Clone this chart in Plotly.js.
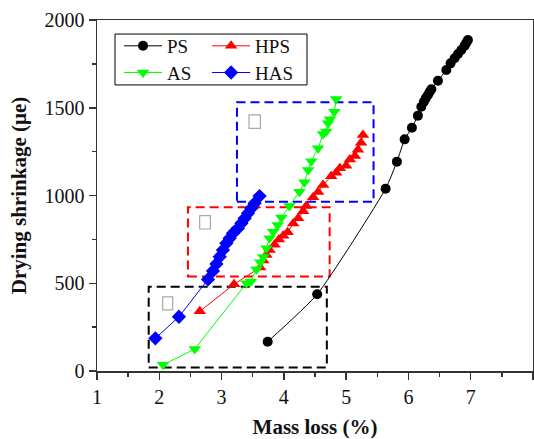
<!DOCTYPE html>
<html>
<head>
<meta charset="utf-8">
<script src="https://cdn.plot.ly/plotly-3.0.1.min.js"></script>
<style>
  html, body { margin: 0; padding: 0; background: #fff; }
  #chart { width: 534px; height: 439px; }
</style>
</head>
<body>
<div id="chart"></div>
<script>
// Drying shrinkage versus mass loss for the four mixes
const psX  = [3.74, 4.535, 5.634, 5.815, 5.939, 6.056, 6.152, 6.207, 6.249, 6.28, 6.313, 6.34, 6.368, 6.474, 6.608, 6.677, 6.741, 6.795, 6.849, 6.902, 6.93, 6.955];
const psY  = [167, 437, 1039, 1193, 1320, 1386, 1455, 1506, 1534, 1555, 1573, 1590, 1605, 1654, 1715, 1753, 1782, 1806, 1829, 1853, 1870, 1886];

const hpsX = [2.65, 3.20, 3.62, 3.67, 3.72, 3.77, 3.85, 3.92, 3.99, 4.06, 4.15, 4.23, 4.31, 4.36, 4.47, 4.55, 4.63, 4.76, 4.84, 4.90, 5.00, 5.06, 5.14, 5.19, 5.24, 5.27];
const hpsY = [340, 494, 590, 630, 661, 689, 720, 750, 770, 790, 840, 870, 910, 940, 990, 1020, 1060, 1110, 1130, 1155, 1170, 1205, 1225, 1260, 1300, 1345];

const asX  = [2.06, 2.57, 3.40, 3.47, 3.56, 3.62, 3.67, 3.72, 3.77, 3.83, 3.90, 3.96, 4.09, 4.25, 4.33, 4.39, 4.44, 4.55, 4.63, 4.68, 4.71, 4.74, 4.81, 4.84];
const asY  = [35, 125, 500, 510, 580, 620, 650, 700, 756, 794, 832, 874, 940, 1022, 1075, 1145, 1195, 1269, 1350, 1364, 1411, 1434, 1477, 1550];

const hasX = [1.937, 2.316, 2.782, 2.862, 2.917, 2.970, 3.022, 3.077, 3.130, 3.183, 3.263, 3.318, 3.371, 3.424, 3.478, 3.531, 3.61];
const hasY = [186, 309, 522, 570, 610, 651, 689, 728, 756, 785, 813, 842, 870, 899, 927, 956, 997];

// Stage regions (mass loss range, shrinkage range)
const stageNames = ['stage1', 'stage2', 'stage3'];
const stageX = [[1.83, 4.69], [2.46, 4.735], [3.247, 5.44]];
const stageY = [[20, 480], [538, 933], [965, 1531]];
const stageColors = ['#000000', '#ff0000', '#0000ff'];
// Label glyph cell in the upper-left corner of each region
const stageLabelX = [[2.055, 2.215], [2.648, 2.820], [3.44, 3.623]];
const stageLabelY = [[348, 422], [809, 885], [1383, 1459]];

const xTicks = [1, 2, 3, 4, 5, 6, 7, 8];
const yTicks = [0, 500, 1000, 1500, 2000];

const serif = 'Liberation Serif, Times New Roman, serif';

function series(name, x, y, color, symbol, size, legend, shape) {
  return {
    type: 'scatter', mode: 'lines+markers', name: name, x: x, y: y,
    line: { color: color, width: 1, shape: shape || 'linear', smoothing: 0.5 },
    marker: { color: color, symbol: symbol, size: size, line: { width: 0 } },
    legend: legend, cliponaxis: false
  };
}

// one legend per entry so the key forms a compact 2 x 2 grid
const traces = [
  series('PS', psX, psY, '#000000', 'circle', 10, 'legend', 'spline'),
  series('HPS', hpsX, hpsY, '#ff0000', 'triangle-up', 11, 'legend2'),
  series('AS', asX, asY, '#00ff00', 'triangle-down', 11, 'legend3'),
  series('HAS', hasX, hasY, '#0000ff', 'diamond', 11, 'legend4')
];

const shapes = [];
stageNames.forEach(function (n, i) {
  shapes.push({
    type: 'rect', xref: 'x', yref: 'y', layer: 'below',
    x0: stageX[i][0], x1: stageX[i][1], y0: stageY[i][0], y1: stageY[i][1],
    line: { color: stageColors[i], width: 2, dash: '9px,5px' }
  });
  shapes.push({
    type: 'rect', xref: 'x', yref: 'y', layer: 'below',
    x0: stageLabelX[i][0], x1: stageLabelX[i][1], y0: stageLabelY[i][0], y1: stageLabelY[i][1],
    line: { color: '#a8a8a8', width: 1.2 }
  });
});
// frame around the legend grid
shapes.push({
  type: 'rect', xref: 'paper', yref: 'paper',
  x0: 0.0413, x1: 0.4817, y0: 0.815, y1: 0.960,
  line: { color: '#000000', width: 1 }, fillcolor: 'rgba(0,0,0,0)'
});

const axisCommon = {
  showgrid: false, zeroline: false,
  showline: true, linecolor: '#333333', linewidth: 1.5, mirror: true,
  ticks: 'outside', ticklen: 7, tickwidth: 1.5, tickcolor: '#333333',
  tickfont: { family: serif, size: 20, color: '#111111' },
  tickmode: 'array'
};

const legendCommon = {
  bgcolor: 'rgba(0,0,0,0)', borderwidth: 0,
  font: { family: serif, size: 19, color: '#111111' },
  xanchor: 'left', yanchor: 'middle', itemwidth: 38, tracegroupgap: 0
};

const layout = {
  width: 534, height: 439,
  margin: { l: 97, r: 1, t: 20, b: 68 },
  paper_bgcolor: '#ffffff', plot_bgcolor: '#ffffff',
  showlegend: true,
  xaxis: Object.assign({}, axisCommon, {
    range: [1, 8], tickvals: xTicks, ticktext: xTicks.map(String),
    minor: { dtick: 0.5, ticklen: 4, tickwidth: 1.5, tickcolor: '#333333', ticks: 'outside' },
    title: { text: '<b>Mass loss (%)</b>', font: { family: serif, size: 21, color: '#111111' }, standoff: 18 }
  }),
  yaxis: Object.assign({}, axisCommon, {
    range: [0, 2000], tickvals: yTicks, ticktext: yTicks.map(String),
    minor: { dtick: 250, ticklen: 4, tickwidth: 1.5, tickcolor: '#333333', ticks: 'outside' },
    title: { text: '<b>Drying shrinkage (μe)</b>', font: { family: serif, size: 21, color: '#111111' }, standoff: 12 }
  }),
  legend:  Object.assign({}, legendCommon, { x: 0.0505, y: 0.926 }),
  legend2: Object.assign({}, legendCommon, { x: 0.2525, y: 0.926 }),
  legend3: Object.assign({}, legendCommon, { x: 0.0505, y: 0.850 }),
  legend4: Object.assign({}, legendCommon, { x: 0.2525, y: 0.850 }),
  shapes: shapes
};

Plotly.newPlot('chart', traces, layout, { staticPlot: true, displayModeBar: false });
</script>
</body>
</html>
